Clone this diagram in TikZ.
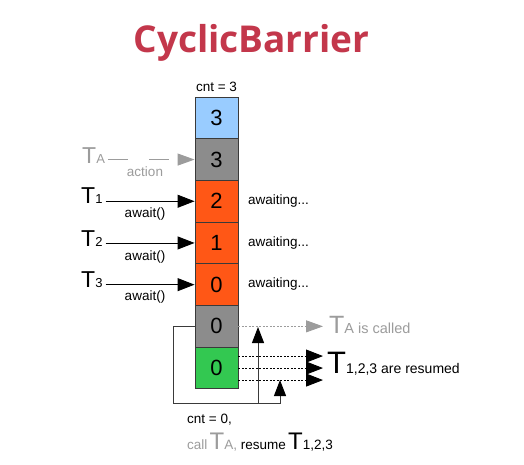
\documentclass[tikz,border=0pt]{standalone}
\usepackage{fontspec}
\setmainfont{Liberation Sans}
\newfontfamily\titlefont{Open Sans}
\usetikzlibrary{arrows.meta}
\definecolor{cblue}{HTML}{99CCFF}
\definecolor{cgray}{HTML}{8C8C8C}
\definecolor{corange}{HTML}{FF5716}
\definecolor{cgreen}{HTML}{33C851}
\definecolor{ltgray}{HTML}{9C9C9C}
\definecolor{cred}{HTML}{C3374B}
\definecolor{linegray}{HTML}{3A3A3A}
\newcommand\fsz[1]{\fontsize{#1}{#1}\selectfont}
\newcommand\bigTT[3]{{\fsz{#1}T}{\fsz{#2}#3}}
\tikzset{
  cell/.style={draw=linegray, line width=0.9pt, minimum width=43pt, minimum height=41.7pt, inner sep=0pt, font=\fsz{22}},
  small/.style={inner sep=0pt, font=\fsz{13.5}},
  tlabel/.style={inner sep=0pt, anchor=base west},
  blackarr/.style={line width=0.9pt, -{Triangle[length=17pt,width=13pt]}},
  grayarr/.style={ltgray, line width=1pt, -{Triangle[length=17pt,width=12pt]}},
  loopline/.style={linegray, line width=1pt},
  uparr/.style={loopline, -{Triangle[length=16pt,width=12pt,color=black]}},
  dotline/.style={dash pattern=on 2pt off 1.5pt, line width=0.9pt}
}
\begin{document}
\begin{tikzpicture}[x=1pt,y=-1pt]
\useasboundingbox[fill=white] (0,0) rectangle (524,464);

\node[anchor=base, inner sep=0pt, text=cred, font=\titlefont\bfseries\fsz{37}] (title) at (251.5,52) {CyclicBarrier};

% cells
\node[cell, fill=cblue]   (c1) at (216.5,117.85) {3};
\node[cell, fill=cgray]   (c2) at (216.5,159.55) {3};
\node[cell, fill=corange] (c3) at (216.5,201.25) {2};
\node[cell, fill=corange] (c4) at (216.5,242.95) {1};
\node[cell, fill=corange] (c5) at (216.5,284.65) {0};
\node[cell, fill=cgray]   (c6) at (216.5,326.35) {0};
\node[cell, fill=cgreen]  (c7) at (216.5,368.05) {0};

\node[small] (cnt3) at (216.5,87) {cnt = 3};

% threads
\node[tlabel, text=ltgray] (tA) at (82,163) {\bigTT{23}{13}{A}};
\node[tlabel] (t1) at (81,203) {\bigTT{23}{13}{1}};
\node[tlabel] (t2) at (81,246) {\bigTT{23}{13}{2}};
\node[tlabel] (t3) at (81,287) {\bigTT{23}{13}{3}};

\draw[grayarr, dash pattern=on 20pt off 21pt, shorten <=3pt] (tA.east |- c2.west) -- (c2.west);
\draw[blackarr, shorten <=3pt] (t1.east |- c3.west) -- (c3.west);
\draw[blackarr, shorten <=3pt] (t2.east |- c4.west) -- (c4.west);
\draw[blackarr, shorten <=3pt] (t3.east |- c5.west) -- (c5.west);

\node[small, text=ltgray] (act) at (145,172) {action};
\node[small] (aw1) at (145,214) {await()};
\node[small] (aw2) at (145,257) {await()};
\node[small] (aw3) at (145,297) {await()};

\node[small, anchor=west] (w1) at (248,201) {awaiting...};
\node[small, anchor=west] (w2) at (248,243) {awaiting...};
\node[small, anchor=west] (w3) at (248,284) {awaiting...};

% right side
\node[tlabel, text=ltgray] (tAc) at (329,333) {\bigTT{25}{14.5}{A is called}};
\node[tlabel] (tR) at (327,373) {\bigTT{31}{14}{1,2,3 are resumed}};

\draw[grayarr, dotline, shorten >=6pt] (c6.east) -- (c6.east -| tAc.west);

\coordinate (r1) at ([yshift=12pt]c7.east);
\coordinate (r2) at (c7.east);
\coordinate (r3) at ([yshift=-12pt]c7.east);
\draw[blackarr, dotline, shorten >=4pt] (r1) -- (r1 -| tR.west);
\draw[blackarr, dotline, shorten >=4pt] (r2) -- (r2 -| tR.west);
\draw[blackarr, dotline, shorten >=4pt] (r3) -- (r3 -| tR.west);

% loop
\coordinate (lp) at (173,403);
\coordinate (up2) at (280,380);
\coordinate (j) at (258,403);
\coordinate (up1) at (258,327);
\draw[uparr] (c6.west) -| (lp) -| (up2);
\draw[uparr] (j) -- (up1);

% bottom text
\node[small, anchor=base west] (cnt0) at (187,423) {cnt = 0,};
\node[tlabel] (callt) at (187,449) {{\color{ltgray}\fsz{13.5}call\,\bigTT{24}{13.5}{A,}}{\fsz{13.5} resume\,}\bigTT{24}{13.5}{1,2,3}};
\end{tikzpicture}
\end{document}
